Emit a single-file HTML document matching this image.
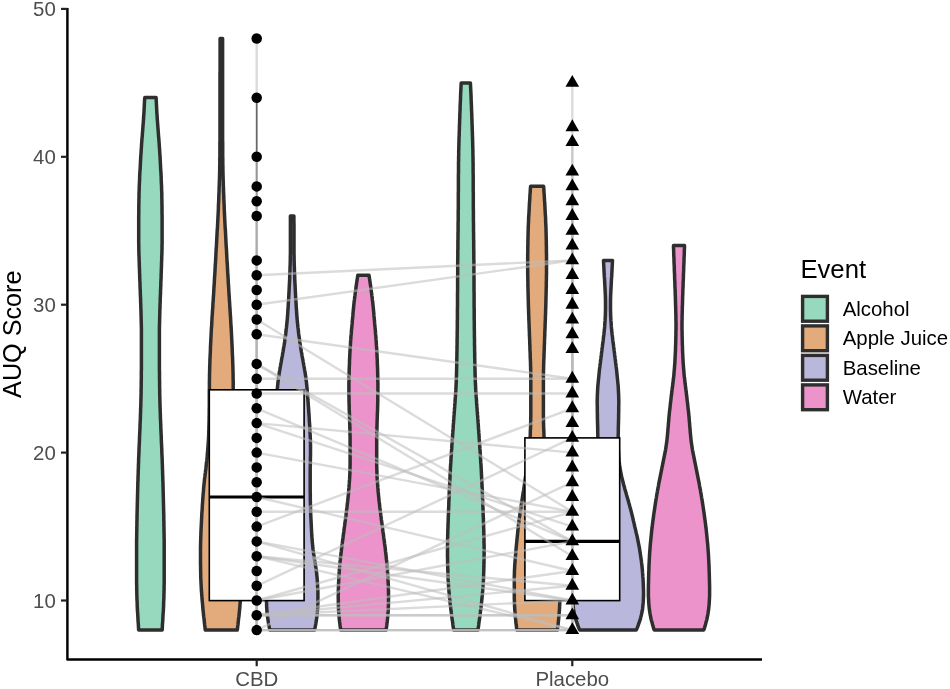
<!DOCTYPE html>
<html lang="en">
<head>
<meta charset="utf-8">
<title>AUQ Score by Event</title>
<style>
html,body{margin:0;padding:0;background:#fff;}
body{width:950px;height:689px;overflow:hidden;font-family:"Liberation Sans",Arial,Helvetica,sans-serif;}
svg{display:block;}
</style>
</head>
<body>
<svg width="950" height="689" viewBox="0 0 950 689" role="img" aria-label="AUQ Score by drug condition and event">
<rect x="0" y="0" width="950" height="689" fill="#ffffff"/>
<g stroke="#2e2e2e" stroke-width="3.5" stroke-linejoin="round">
<path fill="#97D9BE" d="M144.8 97.6 L144.6 99.6 L144.5 101.6 L144.4 103.6 L144.3 105.6 L144.2 107.6 L144.1 109.6 L144.0 111.6 L143.9 113.6 L143.7 115.6 L143.6 117.6 L143.5 119.6 L143.3 121.6 L143.2 123.6 L143.0 125.6 L142.9 127.6 L142.7 129.6 L142.6 131.6 L142.4 133.6 L142.3 135.6 L142.1 137.6 L141.9 139.6 L141.8 141.6 L141.6 143.6 L141.5 145.6 L141.4 147.6 L141.2 149.6 L141.1 151.6 L141.0 153.6 L140.8 155.6 L140.7 157.6 L140.6 159.6 L140.5 161.6 L140.4 163.6 L140.3 165.6 L140.2 167.6 L140.1 169.6 L139.9 171.6 L139.8 173.6 L139.7 175.6 L139.6 177.6 L139.6 179.6 L139.5 181.6 L139.4 183.6 L139.3 185.6 L139.2 187.6 L139.2 189.6 L139.1 191.6 L139.0 193.6 L139.0 195.6 L139.0 197.6 L138.9 199.6 L138.9 201.6 L138.9 203.6 L138.8 205.6 L138.8 207.6 L138.8 209.6 L138.8 211.6 L138.8 213.6 L138.7 215.6 L138.7 217.6 L138.7 219.6 L138.7 221.6 L138.7 223.6 L138.7 225.6 L138.7 227.6 L138.7 229.6 L138.7 231.6 L138.7 233.6 L138.7 235.6 L138.7 237.6 L138.7 239.6 L138.7 241.6 L138.7 243.6 L138.8 245.6 L138.8 247.6 L138.8 249.6 L138.9 251.6 L138.9 253.6 L139.0 255.6 L139.1 257.6 L139.1 259.6 L139.2 261.6 L139.3 263.6 L139.3 265.6 L139.4 267.6 L139.5 269.6 L139.5 271.6 L139.6 273.6 L139.7 275.6 L139.7 277.6 L139.8 279.6 L139.9 281.6 L140.0 283.6 L140.0 285.6 L140.1 287.6 L140.2 289.6 L140.3 291.6 L140.3 293.6 L140.4 295.6 L140.5 297.6 L140.6 299.6 L140.6 301.6 L140.7 303.6 L140.8 305.6 L140.8 307.6 L140.9 309.6 L141.0 311.6 L141.0 313.6 L141.1 315.6 L141.1 317.6 L141.2 319.6 L141.2 321.6 L141.3 323.6 L141.3 325.6 L141.4 327.6 L141.4 329.6 L141.4 331.6 L141.4 333.6 L141.4 335.6 L141.4 337.6 L141.4 339.6 L141.4 341.6 L141.4 343.6 L141.4 345.6 L141.4 347.6 L141.4 349.6 L141.4 351.6 L141.4 353.6 L141.4 355.6 L141.4 357.6 L141.4 359.6 L141.4 361.6 L141.4 363.6 L141.4 365.6 L141.4 367.6 L141.4 369.6 L141.3 371.6 L141.3 373.6 L141.3 375.6 L141.3 377.6 L141.3 379.6 L141.2 381.6 L141.2 383.6 L141.2 385.6 L141.2 387.6 L141.1 389.6 L141.1 391.6 L141.1 393.6 L141.0 395.6 L141.0 397.6 L140.9 399.6 L140.9 401.6 L140.8 403.6 L140.8 405.6 L140.7 407.6 L140.6 409.6 L140.6 411.6 L140.5 413.6 L140.4 415.6 L140.4 417.6 L140.3 419.6 L140.2 421.6 L140.1 423.6 L140.0 425.6 L140.0 427.6 L139.9 429.6 L139.8 431.6 L139.7 433.6 L139.6 435.6 L139.5 437.6 L139.5 439.6 L139.4 441.6 L139.3 443.6 L139.2 445.6 L139.1 447.6 L139.0 449.6 L139.0 451.6 L138.9 453.6 L138.8 455.6 L138.7 457.6 L138.6 459.6 L138.6 461.6 L138.5 463.6 L138.4 465.6 L138.4 467.6 L138.3 469.6 L138.2 471.6 L138.2 473.6 L138.1 475.6 L138.0 477.6 L138.0 479.6 L137.9 481.6 L137.8 483.6 L137.8 485.6 L137.7 487.6 L137.7 489.6 L137.6 491.6 L137.6 493.6 L137.5 495.6 L137.5 497.6 L137.4 499.6 L137.4 501.6 L137.3 503.6 L137.3 505.6 L137.2 507.6 L137.2 509.6 L137.1 511.6 L137.1 513.6 L137.0 515.6 L137.0 517.6 L137.0 519.6 L136.9 521.6 L136.9 523.6 L136.9 525.6 L136.8 527.6 L136.8 529.6 L136.8 531.6 L136.7 533.6 L136.7 535.6 L136.7 537.6 L136.6 539.6 L136.6 541.6 L136.6 543.6 L136.6 545.6 L136.6 547.6 L136.6 549.6 L136.6 551.6 L136.6 553.6 L136.6 555.6 L136.6 557.6 L136.6 559.6 L136.6 561.6 L136.6 563.6 L136.6 565.6 L136.6 567.6 L136.6 569.6 L136.6 571.6 L136.6 573.6 L136.6 575.6 L136.6 577.6 L136.6 579.6 L136.6 581.6 L136.6 583.6 L136.7 585.6 L136.7 587.6 L136.7 589.6 L136.8 591.6 L136.8 593.6 L136.9 595.6 L136.9 597.6 L137.0 599.6 L137.1 601.6 L137.2 603.6 L137.2 605.6 L137.3 607.6 L137.4 609.6 L137.5 611.6 L137.7 613.6 L137.8 615.6 L137.9 617.6 L138.0 619.6 L138.1 621.6 L138.3 623.6 L138.4 625.6 L138.5 627.6 L138.6 629.6 L138.8 630.1 L162.1 630.1 L162.2 629.6 L162.3 627.6 L162.4 625.6 L162.5 623.6 L162.7 621.6 L162.8 619.6 L162.9 617.6 L163.0 615.6 L163.1 613.6 L163.3 611.6 L163.4 609.6 L163.5 607.6 L163.6 605.6 L163.6 603.6 L163.7 601.6 L163.8 599.6 L163.9 597.6 L163.9 595.6 L164.0 593.6 L164.0 591.6 L164.1 589.6 L164.1 587.6 L164.1 585.6 L164.2 583.6 L164.2 581.6 L164.2 579.6 L164.2 577.6 L164.2 575.6 L164.2 573.6 L164.2 571.6 L164.2 569.6 L164.2 567.6 L164.2 565.6 L164.2 563.6 L164.2 561.6 L164.2 559.6 L164.2 557.6 L164.2 555.6 L164.2 553.6 L164.2 551.6 L164.2 549.6 L164.2 547.6 L164.2 545.6 L164.2 543.6 L164.2 541.6 L164.2 539.6 L164.1 537.6 L164.1 535.6 L164.1 533.6 L164.0 531.6 L164.0 529.6 L164.0 527.6 L163.9 525.6 L163.9 523.6 L163.9 521.6 L163.8 519.6 L163.8 517.6 L163.8 515.6 L163.7 513.6 L163.7 511.6 L163.6 509.6 L163.6 507.6 L163.5 505.6 L163.5 503.6 L163.4 501.6 L163.4 499.6 L163.3 497.6 L163.3 495.6 L163.2 493.6 L163.2 491.6 L163.1 489.6 L163.1 487.6 L163.0 485.6 L163.0 483.6 L162.9 481.6 L162.8 479.6 L162.8 477.6 L162.7 475.6 L162.6 473.6 L162.6 471.6 L162.5 469.6 L162.4 467.6 L162.4 465.6 L162.3 463.6 L162.2 461.6 L162.2 459.6 L162.1 457.6 L162.0 455.6 L161.9 453.6 L161.8 451.6 L161.8 449.6 L161.7 447.6 L161.6 445.6 L161.5 443.6 L161.4 441.6 L161.3 439.6 L161.3 437.6 L161.2 435.6 L161.1 433.6 L161.0 431.6 L160.9 429.6 L160.8 427.6 L160.8 425.6 L160.7 423.6 L160.6 421.6 L160.5 419.6 L160.4 417.6 L160.4 415.6 L160.3 413.6 L160.2 411.6 L160.2 409.6 L160.1 407.6 L160.0 405.6 L160.0 403.6 L159.9 401.6 L159.9 399.6 L159.8 397.6 L159.8 395.6 L159.7 393.6 L159.7 391.6 L159.7 389.6 L159.6 387.6 L159.6 385.6 L159.6 383.6 L159.6 381.6 L159.5 379.6 L159.5 377.6 L159.5 375.6 L159.5 373.6 L159.5 371.6 L159.4 369.6 L159.4 367.6 L159.4 365.6 L159.4 363.6 L159.4 361.6 L159.4 359.6 L159.4 357.6 L159.4 355.6 L159.4 353.6 L159.4 351.6 L159.4 349.6 L159.4 347.6 L159.4 345.6 L159.4 343.6 L159.4 341.6 L159.4 339.6 L159.4 337.6 L159.4 335.6 L159.4 333.6 L159.4 331.6 L159.4 329.6 L159.4 327.6 L159.5 325.6 L159.5 323.6 L159.6 321.6 L159.6 319.6 L159.7 317.6 L159.7 315.6 L159.8 313.6 L159.8 311.6 L159.9 309.6 L160.0 307.6 L160.0 305.6 L160.1 303.6 L160.2 301.6 L160.2 299.6 L160.3 297.6 L160.4 295.6 L160.5 293.6 L160.5 291.6 L160.6 289.6 L160.7 287.6 L160.8 285.6 L160.8 283.6 L160.9 281.6 L161.0 279.6 L161.1 277.6 L161.1 275.6 L161.2 273.6 L161.3 271.6 L161.3 269.6 L161.4 267.6 L161.5 265.6 L161.5 263.6 L161.6 261.6 L161.7 259.6 L161.7 257.6 L161.8 255.6 L161.9 253.6 L161.9 251.6 L162.0 249.6 L162.0 247.6 L162.0 245.6 L162.1 243.6 L162.1 241.6 L162.1 239.6 L162.1 237.6 L162.1 235.6 L162.1 233.6 L162.1 231.6 L162.1 229.6 L162.1 227.6 L162.1 225.6 L162.1 223.6 L162.1 221.6 L162.1 219.6 L162.1 217.6 L162.1 215.6 L162.0 213.6 L162.0 211.6 L162.0 209.6 L162.0 207.6 L162.0 205.6 L161.9 203.6 L161.9 201.6 L161.9 199.6 L161.8 197.6 L161.8 195.6 L161.8 193.6 L161.7 191.6 L161.6 189.6 L161.6 187.6 L161.5 185.6 L161.4 183.6 L161.3 181.6 L161.2 179.6 L161.2 177.6 L161.1 175.6 L161.0 173.6 L160.9 171.6 L160.7 169.6 L160.6 167.6 L160.5 165.6 L160.4 163.6 L160.3 161.6 L160.2 159.6 L160.1 157.6 L160.0 155.6 L159.8 153.6 L159.7 151.6 L159.6 149.6 L159.4 147.6 L159.3 145.6 L159.2 143.6 L159.0 141.6 L158.9 139.6 L158.7 137.6 L158.5 135.6 L158.4 133.6 L158.2 131.6 L158.1 129.6 L157.9 127.6 L157.8 125.6 L157.6 123.6 L157.5 121.6 L157.3 119.6 L157.2 117.6 L157.1 115.6 L156.9 113.6 L156.8 111.6 L156.7 109.6 L156.6 107.6 L156.5 105.6 L156.4 103.6 L156.3 101.6 L156.2 99.6 L156.1 97.6 Z"/>
<path fill="#E3AB7C" d="M220.1 38.5 L220.1 40.5 L220.1 42.5 L220.1 44.5 L220.1 46.5 L220.1 48.5 L220.1 50.5 L220.1 52.5 L220.1 54.5 L220.1 56.5 L220.1 58.5 L220.1 60.5 L220.1 62.5 L220.1 64.5 L220.1 66.5 L220.1 68.5 L220.1 70.5 L220.0 72.5 L220.0 74.5 L220.0 76.5 L220.0 78.5 L220.0 80.5 L220.0 82.5 L220.0 84.5 L220.0 86.5 L220.0 88.5 L220.0 90.5 L220.0 92.5 L220.0 94.5 L220.0 96.5 L220.0 98.5 L220.0 100.5 L220.0 102.5 L220.0 104.5 L220.0 106.5 L220.0 108.5 L220.0 110.5 L220.0 112.5 L220.0 114.5 L220.0 116.5 L220.0 118.5 L220.0 120.5 L220.0 122.5 L220.0 124.5 L220.0 126.5 L220.0 128.5 L220.0 130.5 L220.0 132.5 L220.0 134.5 L220.0 136.5 L220.0 138.5 L220.0 140.5 L219.9 142.5 L219.9 144.5 L219.9 146.5 L219.9 148.5 L219.9 150.5 L219.9 152.5 L219.9 154.5 L219.9 156.5 L219.8 158.5 L219.8 160.5 L219.8 162.5 L219.8 164.5 L219.7 166.5 L219.7 168.5 L219.7 170.5 L219.6 172.5 L219.6 174.5 L219.5 176.5 L219.5 178.5 L219.4 180.5 L219.3 182.5 L219.3 184.5 L219.2 186.5 L219.1 188.5 L219.1 190.5 L219.0 192.5 L218.9 194.5 L218.8 196.5 L218.8 198.5 L218.7 200.5 L218.6 202.5 L218.5 204.5 L218.4 206.5 L218.4 208.5 L218.3 210.5 L218.2 212.5 L218.1 214.5 L218.0 216.5 L217.9 218.5 L217.8 220.5 L217.7 222.5 L217.6 224.5 L217.5 226.5 L217.4 228.5 L217.2 230.5 L217.1 232.5 L217.0 234.5 L216.9 236.5 L216.8 238.5 L216.7 240.5 L216.6 242.5 L216.5 244.5 L216.4 246.5 L216.2 248.5 L216.1 250.5 L216.0 252.5 L215.9 254.5 L215.8 256.5 L215.7 258.5 L215.6 260.5 L215.5 262.5 L215.3 264.5 L215.2 266.5 L215.1 268.5 L215.0 270.5 L214.9 272.5 L214.8 274.5 L214.6 276.5 L214.5 278.5 L214.4 280.5 L214.3 282.5 L214.2 284.5 L214.0 286.5 L213.9 288.5 L213.8 290.5 L213.7 292.5 L213.6 294.5 L213.4 296.5 L213.3 298.5 L213.2 300.5 L213.0 302.5 L212.9 304.5 L212.8 306.5 L212.7 308.5 L212.5 310.5 L212.4 312.5 L212.3 314.5 L212.1 316.5 L212.0 318.5 L211.9 320.5 L211.8 322.5 L211.7 324.5 L211.6 326.5 L211.4 328.5 L211.3 330.5 L211.2 332.5 L211.1 334.5 L211.0 336.5 L210.9 338.5 L210.8 340.5 L210.7 342.5 L210.6 344.5 L210.5 346.5 L210.4 348.5 L210.4 350.5 L210.3 352.5 L210.2 354.5 L210.1 356.5 L210.0 358.5 L209.9 360.5 L209.9 362.5 L209.8 364.5 L209.7 366.5 L209.7 368.5 L209.6 370.5 L209.6 372.5 L209.5 374.5 L209.5 376.5 L209.5 378.5 L209.4 380.5 L209.4 382.5 L209.4 384.5 L209.4 386.5 L209.4 388.5 L209.3 390.5 L209.3 392.5 L209.3 394.5 L209.3 396.5 L209.3 398.5 L209.3 400.5 L209.3 402.5 L209.3 404.5 L209.3 406.5 L209.2 408.5 L209.2 410.5 L209.2 412.5 L209.2 414.5 L209.1 416.5 L209.1 418.5 L209.1 420.5 L209.0 422.5 L209.0 424.5 L208.9 426.5 L208.9 428.5 L208.8 430.5 L208.7 432.5 L208.7 434.5 L208.6 436.5 L208.5 438.5 L208.4 440.5 L208.3 442.5 L208.1 444.5 L208.0 446.5 L207.8 448.5 L207.7 450.5 L207.5 452.5 L207.3 454.5 L207.2 456.5 L207.0 458.5 L206.8 460.5 L206.5 462.5 L206.3 464.5 L206.1 466.5 L205.9 468.5 L205.6 470.5 L205.4 472.5 L205.1 474.5 L204.9 476.5 L204.6 478.5 L204.4 480.5 L204.2 482.5 L204.0 484.5 L203.8 486.5 L203.6 488.5 L203.5 490.5 L203.3 492.5 L203.1 494.5 L203.0 496.5 L202.8 498.5 L202.7 500.5 L202.6 502.5 L202.4 504.5 L202.3 506.5 L202.2 508.5 L202.1 510.5 L201.9 512.5 L201.8 514.5 L201.7 516.5 L201.6 518.5 L201.5 520.5 L201.4 522.5 L201.3 524.5 L201.2 526.5 L201.1 528.5 L201.0 530.5 L200.9 532.5 L200.9 534.5 L200.8 536.5 L200.7 538.5 L200.7 540.5 L200.6 542.5 L200.6 544.5 L200.5 546.5 L200.5 548.5 L200.5 550.5 L200.5 552.5 L200.5 554.5 L200.5 556.5 L200.5 558.5 L200.5 560.5 L200.5 562.5 L200.5 564.5 L200.6 566.5 L200.6 568.5 L200.6 570.5 L200.7 572.5 L200.7 574.5 L200.7 576.5 L200.8 578.5 L200.9 580.5 L201.0 582.5 L201.1 584.5 L201.2 586.5 L201.3 588.5 L201.4 590.5 L201.6 592.5 L201.7 594.5 L201.9 596.5 L202.0 598.5 L202.2 600.5 L202.4 602.5 L202.6 604.5 L202.7 606.5 L202.9 608.5 L203.1 610.5 L203.3 612.5 L203.5 614.5 L203.7 616.5 L204.0 618.5 L204.2 620.5 L204.4 622.5 L204.6 624.5 L204.9 626.5 L205.1 628.5 L205.3 630.1 L237.3 630.1 L237.5 628.5 L237.7 626.5 L238.0 624.5 L238.2 622.5 L238.4 620.5 L238.6 618.5 L238.9 616.5 L239.1 614.5 L239.3 612.5 L239.5 610.5 L239.7 608.5 L239.9 606.5 L240.0 604.5 L240.2 602.5 L240.4 600.5 L240.6 598.5 L240.7 596.5 L240.9 594.5 L241.0 592.5 L241.2 590.5 L241.3 588.5 L241.4 586.5 L241.5 584.5 L241.6 582.5 L241.7 580.5 L241.8 578.5 L241.9 576.5 L241.9 574.5 L241.9 572.5 L242.0 570.5 L242.0 568.5 L242.0 566.5 L242.1 564.5 L242.1 562.5 L242.1 560.5 L242.1 558.5 L242.1 556.5 L242.1 554.5 L242.1 552.5 L242.1 550.5 L242.1 548.5 L242.1 546.5 L242.0 544.5 L242.0 542.5 L241.9 540.5 L241.9 538.5 L241.8 536.5 L241.7 534.5 L241.7 532.5 L241.6 530.5 L241.5 528.5 L241.4 526.5 L241.3 524.5 L241.2 522.5 L241.1 520.5 L241.0 518.5 L240.9 516.5 L240.8 514.5 L240.7 512.5 L240.5 510.5 L240.4 508.5 L240.3 506.5 L240.2 504.5 L240.0 502.5 L239.9 500.5 L239.8 498.5 L239.6 496.5 L239.5 494.5 L239.3 492.5 L239.1 490.5 L239.0 488.5 L238.8 486.5 L238.6 484.5 L238.4 482.5 L238.2 480.5 L238.0 478.5 L237.7 476.5 L237.5 474.5 L237.2 472.5 L237.0 470.5 L236.7 468.5 L236.5 466.5 L236.3 464.5 L236.1 462.5 L235.8 460.5 L235.6 458.5 L235.4 456.5 L235.3 454.5 L235.1 452.5 L234.9 450.5 L234.8 448.5 L234.6 446.5 L234.5 444.5 L234.3 442.5 L234.2 440.5 L234.1 438.5 L234.0 436.5 L233.9 434.5 L233.9 432.5 L233.8 430.5 L233.7 428.5 L233.7 426.5 L233.6 424.5 L233.6 422.5 L233.5 420.5 L233.5 418.5 L233.5 416.5 L233.4 414.5 L233.4 412.5 L233.4 410.5 L233.4 408.5 L233.3 406.5 L233.3 404.5 L233.3 402.5 L233.3 400.5 L233.3 398.5 L233.3 396.5 L233.3 394.5 L233.3 392.5 L233.3 390.5 L233.2 388.5 L233.2 386.5 L233.2 384.5 L233.2 382.5 L233.2 380.5 L233.1 378.5 L233.1 376.5 L233.1 374.5 L233.0 372.5 L233.0 370.5 L232.9 368.5 L232.9 366.5 L232.8 364.5 L232.7 362.5 L232.7 360.5 L232.6 358.5 L232.5 356.5 L232.4 354.5 L232.3 352.5 L232.2 350.5 L232.2 348.5 L232.1 346.5 L232.0 344.5 L231.9 342.5 L231.8 340.5 L231.7 338.5 L231.6 336.5 L231.5 334.5 L231.4 332.5 L231.3 330.5 L231.2 328.5 L231.0 326.5 L230.9 324.5 L230.8 322.5 L230.7 320.5 L230.6 318.5 L230.5 316.5 L230.3 314.5 L230.2 312.5 L230.1 310.5 L229.9 308.5 L229.8 306.5 L229.7 304.5 L229.6 302.5 L229.4 300.5 L229.3 298.5 L229.2 296.5 L229.0 294.5 L228.9 292.5 L228.8 290.5 L228.7 288.5 L228.6 286.5 L228.4 284.5 L228.3 282.5 L228.2 280.5 L228.1 278.5 L228.0 276.5 L227.8 274.5 L227.7 272.5 L227.6 270.5 L227.5 268.5 L227.4 266.5 L227.3 264.5 L227.1 262.5 L227.0 260.5 L226.9 258.5 L226.8 256.5 L226.7 254.5 L226.6 252.5 L226.5 250.5 L226.4 248.5 L226.2 246.5 L226.1 244.5 L226.0 242.5 L225.9 240.5 L225.8 238.5 L225.7 236.5 L225.6 234.5 L225.5 232.5 L225.4 230.5 L225.2 228.5 L225.1 226.5 L225.0 224.5 L224.9 222.5 L224.8 220.5 L224.7 218.5 L224.6 216.5 L224.5 214.5 L224.4 212.5 L224.3 210.5 L224.2 208.5 L224.2 206.5 L224.1 204.5 L224.0 202.5 L223.9 200.5 L223.8 198.5 L223.8 196.5 L223.7 194.5 L223.6 192.5 L223.5 190.5 L223.5 188.5 L223.4 186.5 L223.3 184.5 L223.3 182.5 L223.2 180.5 L223.1 178.5 L223.1 176.5 L223.0 174.5 L223.0 172.5 L222.9 170.5 L222.9 168.5 L222.9 166.5 L222.8 164.5 L222.8 162.5 L222.8 160.5 L222.8 158.5 L222.7 156.5 L222.7 154.5 L222.7 152.5 L222.7 150.5 L222.7 148.5 L222.7 146.5 L222.7 144.5 L222.7 142.5 L222.6 140.5 L222.6 138.5 L222.6 136.5 L222.6 134.5 L222.6 132.5 L222.6 130.5 L222.6 128.5 L222.6 126.5 L222.6 124.5 L222.6 122.5 L222.6 120.5 L222.6 118.5 L222.6 116.5 L222.6 114.5 L222.6 112.5 L222.6 110.5 L222.6 108.5 L222.6 106.5 L222.6 104.5 L222.6 102.5 L222.6 100.5 L222.6 98.5 L222.6 96.5 L222.6 94.5 L222.6 92.5 L222.6 90.5 L222.6 88.5 L222.6 86.5 L222.6 84.5 L222.6 82.5 L222.6 80.5 L222.6 78.5 L222.6 76.5 L222.6 74.5 L222.6 72.5 L222.6 70.5 L222.6 68.5 L222.6 66.5 L222.6 64.5 L222.6 62.5 L222.6 60.5 L222.6 58.5 L222.6 56.5 L222.6 54.5 L222.6 52.5 L222.6 50.5 L222.6 48.5 L222.6 46.5 L222.6 44.5 L222.6 42.5 L222.6 40.5 L222.6 38.5 Z"/>
<path fill="#BAB7DC" d="M290.4 216.0 L290.4 218.0 L290.4 220.0 L290.4 222.0 L290.4 224.0 L290.4 226.0 L290.4 228.0 L290.4 230.0 L290.4 232.0 L290.4 234.0 L290.4 236.0 L290.4 238.0 L290.4 240.0 L290.4 242.0 L290.4 244.0 L290.4 246.0 L290.4 248.0 L290.4 250.0 L290.4 252.0 L290.4 254.0 L290.3 256.0 L290.3 258.0 L290.3 260.0 L290.2 262.0 L290.2 264.0 L290.1 266.0 L290.0 268.0 L290.0 270.0 L289.9 272.0 L289.8 274.0 L289.7 276.0 L289.7 278.0 L289.6 280.0 L289.5 282.0 L289.4 284.0 L289.3 286.0 L289.2 288.0 L289.1 290.0 L289.0 292.0 L288.9 294.0 L288.8 296.0 L288.7 298.0 L288.6 300.0 L288.4 302.0 L288.3 304.0 L288.2 306.0 L288.1 308.0 L287.9 310.0 L287.8 312.0 L287.7 314.0 L287.5 316.0 L287.4 318.0 L287.2 320.0 L287.0 322.0 L286.8 324.0 L286.6 326.0 L286.4 328.0 L286.1 330.0 L285.9 332.0 L285.7 334.0 L285.4 336.0 L285.1 338.0 L284.8 340.0 L284.6 342.0 L284.3 344.0 L284.0 346.0 L283.6 348.0 L283.3 350.0 L283.0 352.0 L282.6 354.0 L282.3 356.0 L281.9 358.0 L281.5 360.0 L281.2 362.0 L280.8 364.0 L280.5 366.0 L280.1 368.0 L279.8 370.0 L279.4 372.0 L279.1 374.0 L278.8 376.0 L278.5 378.0 L278.3 380.0 L278.0 382.0 L277.8 384.0 L277.6 386.0 L277.4 388.0 L277.2 390.0 L277.1 392.0 L276.9 394.0 L276.8 396.0 L276.6 398.0 L276.5 400.0 L276.3 402.0 L276.2 404.0 L276.0 406.0 L275.9 408.0 L275.7 410.0 L275.6 412.0 L275.5 414.0 L275.3 416.0 L275.2 418.0 L275.1 420.0 L275.0 422.0 L274.8 424.0 L274.7 426.0 L274.6 428.0 L274.5 430.0 L274.4 432.0 L274.3 434.0 L274.2 436.0 L274.1 438.0 L274.0 440.0 L274.0 442.0 L273.9 444.0 L273.9 446.0 L273.9 448.0 L273.9 450.0 L273.9 452.0 L273.9 454.0 L273.9 456.0 L274.0 458.0 L274.0 460.0 L274.1 462.0 L274.1 464.0 L274.1 466.0 L274.2 468.0 L274.2 470.0 L274.2 472.0 L274.2 474.0 L274.2 476.0 L274.2 478.0 L274.2 480.0 L274.2 482.0 L274.2 484.0 L274.2 486.0 L274.2 488.0 L274.2 490.0 L274.2 492.0 L274.1 494.0 L274.1 496.0 L274.1 498.0 L274.1 500.0 L274.0 502.0 L274.0 504.0 L273.9 506.0 L273.9 508.0 L273.8 510.0 L273.7 512.0 L273.7 514.0 L273.6 516.0 L273.5 518.0 L273.4 520.0 L273.3 522.0 L273.2 524.0 L273.1 526.0 L273.0 528.0 L272.9 530.0 L272.8 532.0 L272.7 534.0 L272.6 536.0 L272.4 538.0 L272.3 540.0 L272.1 542.0 L271.9 544.0 L271.7 546.0 L271.5 548.0 L271.3 550.0 L271.0 552.0 L270.7 554.0 L270.4 556.0 L270.1 558.0 L269.8 560.0 L269.4 562.0 L269.1 564.0 L268.8 566.0 L268.5 568.0 L268.2 570.0 L267.9 572.0 L267.7 574.0 L267.5 576.0 L267.3 578.0 L267.1 580.0 L267.0 582.0 L266.9 584.0 L266.8 586.0 L266.7 588.0 L266.6 590.0 L266.5 592.0 L266.5 594.0 L266.5 596.0 L266.5 598.0 L266.5 600.0 L266.5 602.0 L266.6 604.0 L266.6 606.0 L266.7 608.0 L266.9 610.0 L267.0 612.0 L267.2 614.0 L267.4 616.0 L267.7 618.0 L268.0 620.0 L268.3 622.0 L268.6 624.0 L269.0 626.0 L269.4 628.0 L269.8 630.0 L270.1 630.1 L314.2 630.1 L314.6 630.0 L315.0 628.0 L315.4 626.0 L315.8 624.0 L316.1 622.0 L316.4 620.0 L316.7 618.0 L317.0 616.0 L317.2 614.0 L317.4 612.0 L317.5 610.0 L317.7 608.0 L317.8 606.0 L317.8 604.0 L317.9 602.0 L317.9 600.0 L317.9 598.0 L317.9 596.0 L317.9 594.0 L317.9 592.0 L317.8 590.0 L317.7 588.0 L317.6 586.0 L317.5 584.0 L317.4 582.0 L317.3 580.0 L317.1 578.0 L316.9 576.0 L316.7 574.0 L316.5 572.0 L316.2 570.0 L315.9 568.0 L315.6 566.0 L315.3 564.0 L315.0 562.0 L314.6 560.0 L314.3 558.0 L314.0 556.0 L313.7 554.0 L313.4 552.0 L313.1 550.0 L312.9 548.0 L312.7 546.0 L312.5 544.0 L312.3 542.0 L312.1 540.0 L312.0 538.0 L311.8 536.0 L311.7 534.0 L311.6 532.0 L311.5 530.0 L311.4 528.0 L311.3 526.0 L311.2 524.0 L311.1 522.0 L311.0 520.0 L310.9 518.0 L310.8 516.0 L310.7 514.0 L310.7 512.0 L310.6 510.0 L310.5 508.0 L310.5 506.0 L310.4 504.0 L310.4 502.0 L310.3 500.0 L310.3 498.0 L310.3 496.0 L310.3 494.0 L310.2 492.0 L310.2 490.0 L310.2 488.0 L310.2 486.0 L310.2 484.0 L310.2 482.0 L310.2 480.0 L310.2 478.0 L310.2 476.0 L310.2 474.0 L310.2 472.0 L310.2 470.0 L310.2 468.0 L310.3 466.0 L310.3 464.0 L310.3 462.0 L310.4 460.0 L310.4 458.0 L310.5 456.0 L310.5 454.0 L310.5 452.0 L310.5 450.0 L310.5 448.0 L310.5 446.0 L310.5 444.0 L310.4 442.0 L310.4 440.0 L310.3 438.0 L310.2 436.0 L310.1 434.0 L310.0 432.0 L309.9 430.0 L309.8 428.0 L309.7 426.0 L309.6 424.0 L309.4 422.0 L309.3 420.0 L309.2 418.0 L309.1 416.0 L308.9 414.0 L308.8 412.0 L308.7 410.0 L308.5 408.0 L308.4 406.0 L308.2 404.0 L308.1 402.0 L307.9 400.0 L307.8 398.0 L307.6 396.0 L307.5 394.0 L307.3 392.0 L307.2 390.0 L307.0 388.0 L306.8 386.0 L306.6 384.0 L306.4 382.0 L306.1 380.0 L305.9 378.0 L305.6 376.0 L305.3 374.0 L305.0 372.0 L304.6 370.0 L304.3 368.0 L303.9 366.0 L303.6 364.0 L303.2 362.0 L302.9 360.0 L302.5 358.0 L302.1 356.0 L301.8 354.0 L301.4 352.0 L301.1 350.0 L300.8 348.0 L300.4 346.0 L300.1 344.0 L299.8 342.0 L299.6 340.0 L299.3 338.0 L299.0 336.0 L298.7 334.0 L298.5 332.0 L298.3 330.0 L298.0 328.0 L297.8 326.0 L297.6 324.0 L297.4 322.0 L297.2 320.0 L297.0 318.0 L296.9 316.0 L296.7 314.0 L296.6 312.0 L296.5 310.0 L296.3 308.0 L296.2 306.0 L296.1 304.0 L296.0 302.0 L295.8 300.0 L295.7 298.0 L295.6 296.0 L295.5 294.0 L295.4 292.0 L295.3 290.0 L295.2 288.0 L295.1 286.0 L295.0 284.0 L294.9 282.0 L294.8 280.0 L294.7 278.0 L294.7 276.0 L294.6 274.0 L294.5 272.0 L294.4 270.0 L294.4 268.0 L294.3 266.0 L294.2 264.0 L294.2 262.0 L294.1 260.0 L294.1 258.0 L294.1 256.0 L294.0 254.0 L294.0 252.0 L294.0 250.0 L294.0 248.0 L294.0 246.0 L294.0 244.0 L294.0 242.0 L294.0 240.0 L294.0 238.0 L294.0 236.0 L294.0 234.0 L294.0 232.0 L294.0 230.0 L294.0 228.0 L294.0 226.0 L294.0 224.0 L293.9 222.0 L293.9 220.0 L293.9 218.0 L293.9 216.0 Z"/>
<path fill="#EC93CB" d="M357.8 275.2 L357.5 277.2 L357.2 279.2 L356.9 281.2 L356.6 283.2 L356.3 285.2 L356.0 287.2 L355.8 289.2 L355.5 291.2 L355.2 293.2 L355.0 295.2 L354.7 297.2 L354.5 299.2 L354.2 301.2 L354.0 303.2 L353.8 305.2 L353.6 307.2 L353.4 309.2 L353.2 311.2 L353.0 313.2 L352.9 315.2 L352.7 317.2 L352.5 319.2 L352.3 321.2 L352.2 323.2 L352.0 325.2 L351.8 327.2 L351.6 329.2 L351.4 331.2 L351.3 333.2 L351.1 335.2 L350.9 337.2 L350.8 339.2 L350.6 341.2 L350.5 343.2 L350.4 345.2 L350.2 347.2 L350.1 349.2 L350.0 351.2 L349.9 353.2 L349.8 355.2 L349.7 357.2 L349.6 359.2 L349.5 361.2 L349.5 363.2 L349.4 365.2 L349.3 367.2 L349.2 369.2 L349.2 371.2 L349.1 373.2 L349.1 375.2 L349.0 377.2 L349.0 379.2 L349.0 381.2 L348.9 383.2 L348.9 385.2 L348.9 387.2 L348.9 389.2 L348.9 391.2 L348.9 393.2 L348.9 395.2 L349.0 397.2 L349.0 399.2 L349.0 401.2 L349.1 403.2 L349.1 405.2 L349.2 407.2 L349.2 409.2 L349.3 411.2 L349.4 413.2 L349.5 415.2 L349.5 417.2 L349.6 419.2 L349.7 421.2 L349.7 423.2 L349.8 425.2 L349.8 427.2 L349.9 429.2 L349.9 431.2 L350.0 433.2 L350.0 435.2 L350.1 437.2 L350.1 439.2 L350.1 441.2 L350.1 443.2 L350.1 445.2 L350.1 447.2 L350.1 449.2 L350.1 451.2 L350.1 453.2 L350.1 455.2 L350.1 457.2 L350.1 459.2 L350.1 461.2 L350.1 463.2 L350.1 465.2 L350.0 467.2 L350.0 469.2 L349.9 471.2 L349.9 473.2 L349.8 475.2 L349.7 477.2 L349.6 479.2 L349.4 481.2 L349.3 483.2 L349.1 485.2 L349.0 487.2 L348.8 489.2 L348.7 491.2 L348.5 493.2 L348.3 495.2 L348.1 497.2 L347.9 499.2 L347.7 501.2 L347.4 503.2 L347.2 505.2 L347.0 507.2 L346.7 509.2 L346.5 511.2 L346.2 513.2 L346.0 515.2 L345.7 517.2 L345.5 519.2 L345.2 521.2 L344.9 523.2 L344.7 525.2 L344.4 527.2 L344.1 529.2 L343.9 531.2 L343.6 533.2 L343.3 535.2 L343.1 537.2 L342.8 539.2 L342.5 541.2 L342.3 543.2 L342.0 545.2 L341.7 547.2 L341.5 549.2 L341.3 551.2 L341.0 553.2 L340.8 555.2 L340.6 557.2 L340.4 559.2 L340.1 561.2 L339.9 563.2 L339.8 565.2 L339.6 567.2 L339.4 569.2 L339.3 571.2 L339.1 573.2 L339.0 575.2 L338.9 577.2 L338.8 579.2 L338.7 581.2 L338.6 583.2 L338.5 585.2 L338.4 587.2 L338.4 589.2 L338.3 591.2 L338.3 593.2 L338.3 595.2 L338.2 597.2 L338.3 599.2 L338.3 601.2 L338.3 603.2 L338.4 605.2 L338.4 607.2 L338.5 609.2 L338.6 611.2 L338.8 613.2 L338.9 615.2 L339.1 617.2 L339.3 619.2 L339.5 621.2 L339.8 623.2 L340.0 625.2 L340.3 627.2 L340.6 629.2 L340.8 630.1 L385.9 630.1 L386.2 629.2 L386.5 627.2 L386.8 625.2 L387.0 623.2 L387.3 621.2 L387.5 619.2 L387.7 617.2 L387.9 615.2 L388.0 613.2 L388.2 611.2 L388.3 609.2 L388.4 607.2 L388.4 605.2 L388.5 603.2 L388.5 601.2 L388.5 599.2 L388.6 597.2 L388.5 595.2 L388.5 593.2 L388.5 591.2 L388.4 589.2 L388.4 587.2 L388.3 585.2 L388.2 583.2 L388.1 581.2 L388.0 579.2 L387.9 577.2 L387.8 575.2 L387.7 573.2 L387.5 571.2 L387.4 569.2 L387.2 567.2 L387.0 565.2 L386.9 563.2 L386.7 561.2 L386.4 559.2 L386.2 557.2 L386.0 555.2 L385.8 553.2 L385.5 551.2 L385.3 549.2 L385.1 547.2 L384.8 545.2 L384.5 543.2 L384.3 541.2 L384.0 539.2 L383.7 537.2 L383.5 535.2 L383.2 533.2 L382.9 531.2 L382.7 529.2 L382.4 527.2 L382.1 525.2 L381.9 523.2 L381.6 521.2 L381.3 519.2 L381.1 517.2 L380.8 515.2 L380.6 513.2 L380.3 511.2 L380.1 509.2 L379.8 507.2 L379.6 505.2 L379.4 503.2 L379.1 501.2 L378.9 499.2 L378.7 497.2 L378.5 495.2 L378.3 493.2 L378.1 491.2 L378.0 489.2 L377.8 487.2 L377.7 485.2 L377.5 483.2 L377.4 481.2 L377.2 479.2 L377.1 477.2 L377.0 475.2 L376.9 473.2 L376.9 471.2 L376.8 469.2 L376.8 467.2 L376.7 465.2 L376.7 463.2 L376.7 461.2 L376.7 459.2 L376.7 457.2 L376.7 455.2 L376.7 453.2 L376.7 451.2 L376.7 449.2 L376.7 447.2 L376.7 445.2 L376.7 443.2 L376.7 441.2 L376.7 439.2 L376.7 437.2 L376.8 435.2 L376.8 433.2 L376.9 431.2 L376.9 429.2 L377.0 427.2 L377.0 425.2 L377.1 423.2 L377.1 421.2 L377.2 419.2 L377.3 417.2 L377.3 415.2 L377.4 413.2 L377.5 411.2 L377.6 409.2 L377.6 407.2 L377.7 405.2 L377.7 403.2 L377.8 401.2 L377.8 399.2 L377.8 397.2 L377.9 395.2 L377.9 393.2 L377.9 391.2 L377.9 389.2 L377.9 387.2 L377.9 385.2 L377.9 383.2 L377.8 381.2 L377.8 379.2 L377.8 377.2 L377.7 375.2 L377.7 373.2 L377.6 371.2 L377.6 369.2 L377.5 367.2 L377.4 365.2 L377.3 363.2 L377.3 361.2 L377.2 359.2 L377.1 357.2 L377.0 355.2 L376.9 353.2 L376.8 351.2 L376.7 349.2 L376.6 347.2 L376.4 345.2 L376.3 343.2 L376.2 341.2 L376.0 339.2 L375.9 337.2 L375.7 335.2 L375.5 333.2 L375.4 331.2 L375.2 329.2 L375.0 327.2 L374.8 325.2 L374.6 323.2 L374.5 321.2 L374.3 319.2 L374.1 317.2 L373.9 315.2 L373.8 313.2 L373.6 311.2 L373.4 309.2 L373.2 307.2 L373.0 305.2 L372.8 303.2 L372.6 301.2 L372.3 299.2 L372.1 297.2 L371.8 295.2 L371.6 293.2 L371.3 291.2 L371.0 289.2 L370.8 287.2 L370.5 285.2 L370.2 283.2 L369.9 281.2 L369.6 279.2 L369.3 277.2 L369.0 275.2 Z"/>
<path fill="#97D9BE" d="M461.2 82.9 L461.1 84.9 L461.0 86.9 L460.9 88.9 L460.8 90.9 L460.7 92.9 L460.6 94.9 L460.5 96.9 L460.5 98.9 L460.4 100.9 L460.3 102.9 L460.2 104.9 L460.1 106.9 L460.1 108.9 L460.0 110.9 L459.9 112.9 L459.8 114.9 L459.8 116.9 L459.7 118.9 L459.6 120.9 L459.6 122.9 L459.5 124.9 L459.4 126.9 L459.4 128.9 L459.3 130.9 L459.2 132.9 L459.2 134.9 L459.1 136.9 L459.0 138.9 L459.0 140.9 L458.9 142.9 L458.9 144.9 L458.8 146.9 L458.8 148.9 L458.7 150.9 L458.7 152.9 L458.7 154.9 L458.6 156.9 L458.6 158.9 L458.6 160.9 L458.5 162.9 L458.5 164.9 L458.5 166.9 L458.5 168.9 L458.5 170.9 L458.5 172.9 L458.4 174.9 L458.4 176.9 L458.4 178.9 L458.4 180.9 L458.4 182.9 L458.4 184.9 L458.4 186.9 L458.4 188.9 L458.4 190.9 L458.3 192.9 L458.3 194.9 L458.3 196.9 L458.3 198.9 L458.3 200.9 L458.3 202.9 L458.3 204.9 L458.3 206.9 L458.3 208.9 L458.2 210.9 L458.2 212.9 L458.2 214.9 L458.2 216.9 L458.2 218.9 L458.2 220.9 L458.1 222.9 L458.1 224.9 L458.1 226.9 L458.1 228.9 L458.1 230.9 L458.0 232.9 L458.0 234.9 L458.0 236.9 L458.0 238.9 L457.9 240.9 L457.9 242.9 L457.9 244.9 L457.9 246.9 L457.9 248.9 L457.8 250.9 L457.8 252.9 L457.8 254.9 L457.8 256.9 L457.8 258.9 L457.7 260.9 L457.7 262.9 L457.7 264.9 L457.7 266.9 L457.7 268.9 L457.7 270.9 L457.7 272.9 L457.7 274.9 L457.6 276.9 L457.6 278.9 L457.6 280.9 L457.6 282.9 L457.6 284.9 L457.6 286.9 L457.6 288.9 L457.6 290.9 L457.5 292.9 L457.5 294.9 L457.5 296.9 L457.5 298.9 L457.5 300.9 L457.5 302.9 L457.5 304.9 L457.5 306.9 L457.4 308.9 L457.4 310.9 L457.4 312.9 L457.4 314.9 L457.4 316.9 L457.4 318.9 L457.3 320.9 L457.3 322.9 L457.3 324.9 L457.3 326.9 L457.3 328.9 L457.2 330.9 L457.2 332.9 L457.2 334.9 L457.2 336.9 L457.1 338.9 L457.1 340.9 L457.1 342.9 L457.1 344.9 L457.0 346.9 L457.0 348.9 L457.0 350.9 L456.9 352.9 L456.9 354.9 L456.9 356.9 L456.8 358.9 L456.8 360.9 L456.8 362.9 L456.7 364.9 L456.7 366.9 L456.6 368.9 L456.6 370.9 L456.5 372.9 L456.5 374.9 L456.4 376.9 L456.3 378.9 L456.3 380.9 L456.2 382.9 L456.1 384.9 L456.0 386.9 L455.9 388.9 L455.8 390.9 L455.6 392.9 L455.5 394.9 L455.4 396.9 L455.2 398.9 L455.1 400.9 L455.0 402.9 L454.8 404.9 L454.7 406.9 L454.5 408.9 L454.4 410.9 L454.2 412.9 L454.1 414.9 L453.9 416.9 L453.8 418.9 L453.6 420.9 L453.5 422.9 L453.3 424.9 L453.2 426.9 L453.1 428.9 L452.9 430.9 L452.8 432.9 L452.6 434.9 L452.5 436.9 L452.4 438.9 L452.2 440.9 L452.1 442.9 L451.9 444.9 L451.8 446.9 L451.7 448.9 L451.5 450.9 L451.4 452.9 L451.3 454.9 L451.1 456.9 L451.0 458.9 L450.9 460.9 L450.8 462.9 L450.6 464.9 L450.5 466.9 L450.4 468.9 L450.3 470.9 L450.2 472.9 L450.1 474.9 L450.0 476.9 L449.9 478.9 L449.8 480.9 L449.7 482.9 L449.6 484.9 L449.5 486.9 L449.4 488.9 L449.3 490.9 L449.2 492.9 L449.2 494.9 L449.1 496.9 L449.0 498.9 L448.9 500.9 L448.8 502.9 L448.8 504.9 L448.7 506.9 L448.6 508.9 L448.5 510.9 L448.5 512.9 L448.4 514.9 L448.3 516.9 L448.2 518.9 L448.2 520.9 L448.1 522.9 L448.0 524.9 L448.0 526.9 L447.9 528.9 L447.8 530.9 L447.8 532.9 L447.7 534.9 L447.7 536.9 L447.6 538.9 L447.6 540.9 L447.6 542.9 L447.5 544.9 L447.5 546.9 L447.5 548.9 L447.5 550.9 L447.5 552.9 L447.5 554.9 L447.5 556.9 L447.6 558.9 L447.6 560.9 L447.6 562.9 L447.7 564.9 L447.7 566.9 L447.8 568.9 L447.8 570.9 L447.9 572.9 L448.0 574.9 L448.0 576.9 L448.1 578.9 L448.2 580.9 L448.4 582.9 L448.5 584.9 L448.6 586.9 L448.8 588.9 L448.9 590.9 L449.1 592.9 L449.3 594.9 L449.5 596.9 L449.7 598.9 L449.9 600.9 L450.1 602.9 L450.3 604.9 L450.6 606.9 L450.8 608.9 L451.1 610.9 L451.3 612.9 L451.6 614.9 L451.8 616.9 L452.1 618.9 L452.4 620.9 L452.7 622.9 L452.9 624.9 L453.2 626.9 L453.5 628.9 L453.8 630.1 L477.9 630.1 L478.1 628.9 L478.4 626.9 L478.7 624.9 L478.9 622.9 L479.2 620.9 L479.5 618.9 L479.8 616.9 L480.0 614.9 L480.3 612.9 L480.5 610.9 L480.8 608.9 L481.0 606.9 L481.3 604.9 L481.5 602.9 L481.7 600.9 L481.9 598.9 L482.1 596.9 L482.3 594.9 L482.5 592.9 L482.7 590.9 L482.8 588.9 L483.0 586.9 L483.1 584.9 L483.2 582.9 L483.4 580.9 L483.5 578.9 L483.6 576.9 L483.6 574.9 L483.7 572.9 L483.8 570.9 L483.8 568.9 L483.9 566.9 L483.9 564.9 L484.0 562.9 L484.0 560.9 L484.0 558.9 L484.1 556.9 L484.1 554.9 L484.1 552.9 L484.1 550.9 L484.1 548.9 L484.1 546.9 L484.1 544.9 L484.0 542.9 L484.0 540.9 L484.0 538.9 L483.9 536.9 L483.9 534.9 L483.8 532.9 L483.8 530.9 L483.7 528.9 L483.6 526.9 L483.6 524.9 L483.5 522.9 L483.4 520.9 L483.4 518.9 L483.3 516.9 L483.2 514.9 L483.1 512.9 L483.1 510.9 L483.0 508.9 L482.9 506.9 L482.8 504.9 L482.8 502.9 L482.7 500.9 L482.6 498.9 L482.5 496.9 L482.4 494.9 L482.4 492.9 L482.3 490.9 L482.2 488.9 L482.1 486.9 L482.0 484.9 L481.9 482.9 L481.8 480.9 L481.7 478.9 L481.6 476.9 L481.5 474.9 L481.4 472.9 L481.3 470.9 L481.2 468.9 L481.1 466.9 L481.0 464.9 L480.8 462.9 L480.7 460.9 L480.6 458.9 L480.5 456.9 L480.3 454.9 L480.2 452.9 L480.1 450.9 L479.9 448.9 L479.8 446.9 L479.7 444.9 L479.5 442.9 L479.4 440.9 L479.2 438.9 L479.1 436.9 L479.0 434.9 L478.8 432.9 L478.7 430.9 L478.5 428.9 L478.4 426.9 L478.3 424.9 L478.1 422.9 L478.0 420.9 L477.8 418.9 L477.7 416.9 L477.5 414.9 L477.4 412.9 L477.2 410.9 L477.1 408.9 L476.9 406.9 L476.8 404.9 L476.6 402.9 L476.5 400.9 L476.4 398.9 L476.2 396.9 L476.1 394.9 L476.0 392.9 L475.8 390.9 L475.7 388.9 L475.6 386.9 L475.5 384.9 L475.4 382.9 L475.3 380.9 L475.3 378.9 L475.2 376.9 L475.1 374.9 L475.1 372.9 L475.0 370.9 L475.0 368.9 L474.9 366.9 L474.9 364.9 L474.8 362.9 L474.8 360.9 L474.8 358.9 L474.7 356.9 L474.7 354.9 L474.7 352.9 L474.6 350.9 L474.6 348.9 L474.6 346.9 L474.5 344.9 L474.5 342.9 L474.5 340.9 L474.5 338.9 L474.4 336.9 L474.4 334.9 L474.4 332.9 L474.4 330.9 L474.3 328.9 L474.3 326.9 L474.3 324.9 L474.3 322.9 L474.3 320.9 L474.2 318.9 L474.2 316.9 L474.2 314.9 L474.2 312.9 L474.2 310.9 L474.2 308.9 L474.1 306.9 L474.1 304.9 L474.1 302.9 L474.1 300.9 L474.1 298.9 L474.1 296.9 L474.1 294.9 L474.1 292.9 L474.0 290.9 L474.0 288.9 L474.0 286.9 L474.0 284.9 L474.0 282.9 L474.0 280.9 L474.0 278.9 L474.0 276.9 L473.9 274.9 L473.9 272.9 L473.9 270.9 L473.9 268.9 L473.9 266.9 L473.9 264.9 L473.9 262.9 L473.9 260.9 L473.8 258.9 L473.8 256.9 L473.8 254.9 L473.8 252.9 L473.8 250.9 L473.7 248.9 L473.7 246.9 L473.7 244.9 L473.7 242.9 L473.7 240.9 L473.6 238.9 L473.6 236.9 L473.6 234.9 L473.6 232.9 L473.5 230.9 L473.5 228.9 L473.5 226.9 L473.5 224.9 L473.5 222.9 L473.4 220.9 L473.4 218.9 L473.4 216.9 L473.4 214.9 L473.4 212.9 L473.4 210.9 L473.3 208.9 L473.3 206.9 L473.3 204.9 L473.3 202.9 L473.3 200.9 L473.3 198.9 L473.3 196.9 L473.3 194.9 L473.3 192.9 L473.2 190.9 L473.2 188.9 L473.2 186.9 L473.2 184.9 L473.2 182.9 L473.2 180.9 L473.2 178.9 L473.2 176.9 L473.2 174.9 L473.1 172.9 L473.1 170.9 L473.1 168.9 L473.1 166.9 L473.1 164.9 L473.1 162.9 L473.0 160.9 L473.0 158.9 L473.0 156.9 L472.9 154.9 L472.9 152.9 L472.9 150.9 L472.8 148.9 L472.8 146.9 L472.7 144.9 L472.7 142.9 L472.6 140.9 L472.6 138.9 L472.5 136.9 L472.4 134.9 L472.4 132.9 L472.3 130.9 L472.2 128.9 L472.2 126.9 L472.1 124.9 L472.0 122.9 L472.0 120.9 L471.9 118.9 L471.8 116.9 L471.8 114.9 L471.7 112.9 L471.6 110.9 L471.5 108.9 L471.5 106.9 L471.4 104.9 L471.3 102.9 L471.2 100.9 L471.1 98.9 L471.1 96.9 L471.0 94.9 L470.9 92.9 L470.8 90.9 L470.7 88.9 L470.6 86.9 L470.5 84.9 L470.4 82.9 Z"/>
<path fill="#E3AB7C" d="M530.6 186.3 L530.4 188.3 L530.3 190.3 L530.2 192.3 L530.0 194.3 L529.9 196.3 L529.8 198.3 L529.7 200.3 L529.5 202.3 L529.4 204.3 L529.3 206.3 L529.2 208.3 L529.1 210.3 L529.0 212.3 L528.9 214.3 L528.7 216.3 L528.6 218.3 L528.6 220.3 L528.5 222.3 L528.4 224.3 L528.3 226.3 L528.2 228.3 L528.2 230.3 L528.1 232.3 L528.1 234.3 L528.0 236.3 L528.0 238.3 L527.9 240.3 L527.9 242.3 L527.9 244.3 L527.8 246.3 L527.8 248.3 L527.8 250.3 L527.8 252.3 L527.7 254.3 L527.7 256.3 L527.7 258.3 L527.7 260.3 L527.7 262.3 L527.7 264.3 L527.7 266.3 L527.7 268.3 L527.7 270.3 L527.7 272.3 L527.7 274.3 L527.8 276.3 L527.8 278.3 L527.8 280.3 L527.9 282.3 L527.9 284.3 L527.9 286.3 L528.0 288.3 L528.0 290.3 L528.1 292.3 L528.1 294.3 L528.2 296.3 L528.2 298.3 L528.3 300.3 L528.3 302.3 L528.4 304.3 L528.4 306.3 L528.5 308.3 L528.6 310.3 L528.6 312.3 L528.7 314.3 L528.8 316.3 L528.8 318.3 L528.9 320.3 L529.0 322.3 L529.1 324.3 L529.1 326.3 L529.2 328.3 L529.3 330.3 L529.4 332.3 L529.4 334.3 L529.5 336.3 L529.6 338.3 L529.7 340.3 L529.7 342.3 L529.8 344.3 L529.9 346.3 L529.9 348.3 L530.0 350.3 L530.1 352.3 L530.2 354.3 L530.2 356.3 L530.3 358.3 L530.4 360.3 L530.5 362.3 L530.5 364.3 L530.6 366.3 L530.6 368.3 L530.7 370.3 L530.7 372.3 L530.8 374.3 L530.8 376.3 L530.8 378.3 L530.8 380.3 L530.8 382.3 L530.8 384.3 L530.8 386.3 L530.8 388.3 L530.8 390.3 L530.8 392.3 L530.8 394.3 L530.8 396.3 L530.8 398.3 L530.8 400.3 L530.8 402.3 L530.8 404.3 L530.8 406.3 L530.8 408.3 L530.8 410.3 L530.8 412.3 L530.8 414.3 L530.8 416.3 L530.7 418.3 L530.7 420.3 L530.7 422.3 L530.6 424.3 L530.6 426.3 L530.5 428.3 L530.4 430.3 L530.3 432.3 L530.3 434.3 L530.2 436.3 L530.0 438.3 L529.9 440.3 L529.8 442.3 L529.6 444.3 L529.4 446.3 L529.2 448.3 L529.0 450.3 L528.8 452.3 L528.5 454.3 L528.3 456.3 L528.0 458.3 L527.8 460.3 L527.5 462.3 L527.3 464.3 L527.0 466.3 L526.7 468.3 L526.4 470.3 L526.2 472.3 L525.9 474.3 L525.6 476.3 L525.3 478.3 L525.0 480.3 L524.7 482.3 L524.5 484.3 L524.2 486.3 L523.9 488.3 L523.6 490.3 L523.2 492.3 L522.9 494.3 L522.6 496.3 L522.3 498.3 L522.0 500.3 L521.7 502.3 L521.4 504.3 L521.1 506.3 L520.8 508.3 L520.5 510.3 L520.2 512.3 L519.9 514.3 L519.6 516.3 L519.3 518.3 L519.1 520.3 L518.8 522.3 L518.6 524.3 L518.3 526.3 L518.1 528.3 L517.9 530.3 L517.7 532.3 L517.5 534.3 L517.3 536.3 L517.1 538.3 L516.9 540.3 L516.7 542.3 L516.5 544.3 L516.3 546.3 L516.1 548.3 L516.0 550.3 L515.8 552.3 L515.6 554.3 L515.4 556.3 L515.3 558.3 L515.1 560.3 L515.0 562.3 L514.8 564.3 L514.7 566.3 L514.6 568.3 L514.5 570.3 L514.4 572.3 L514.4 574.3 L514.3 576.3 L514.3 578.3 L514.3 580.3 L514.3 582.3 L514.3 584.3 L514.3 586.3 L514.3 588.3 L514.3 590.3 L514.3 592.3 L514.3 594.3 L514.3 596.3 L514.3 598.3 L514.4 600.3 L514.4 602.3 L514.5 604.3 L514.6 606.3 L514.7 608.3 L514.8 610.3 L515.0 612.3 L515.1 614.3 L515.3 616.3 L515.5 618.3 L515.7 620.3 L515.9 622.3 L516.1 624.3 L516.4 626.3 L516.6 628.3 L516.9 630.1 L557.4 630.1 L557.6 628.3 L557.8 626.3 L558.1 624.3 L558.3 622.3 L558.5 620.3 L558.7 618.3 L558.9 616.3 L559.1 614.3 L559.2 612.3 L559.4 610.3 L559.5 608.3 L559.6 606.3 L559.7 604.3 L559.8 602.3 L559.8 600.3 L559.9 598.3 L559.9 596.3 L559.9 594.3 L559.9 592.3 L559.9 590.3 L559.9 588.3 L559.9 586.3 L559.9 584.3 L559.9 582.3 L559.9 580.3 L559.9 578.3 L559.9 576.3 L559.8 574.3 L559.8 572.3 L559.7 570.3 L559.6 568.3 L559.5 566.3 L559.4 564.3 L559.2 562.3 L559.1 560.3 L558.9 558.3 L558.8 556.3 L558.6 554.3 L558.4 552.3 L558.2 550.3 L558.1 548.3 L557.9 546.3 L557.7 544.3 L557.5 542.3 L557.3 540.3 L557.1 538.3 L556.9 536.3 L556.7 534.3 L556.5 532.3 L556.3 530.3 L556.1 528.3 L555.9 526.3 L555.6 524.3 L555.4 522.3 L555.1 520.3 L554.9 518.3 L554.6 516.3 L554.3 514.3 L554.0 512.3 L553.7 510.3 L553.4 508.3 L553.1 506.3 L552.8 504.3 L552.5 502.3 L552.2 500.3 L551.9 498.3 L551.6 496.3 L551.3 494.3 L551.0 492.3 L550.6 490.3 L550.3 488.3 L550.0 486.3 L549.7 484.3 L549.5 482.3 L549.2 480.3 L548.9 478.3 L548.6 476.3 L548.3 474.3 L548.0 472.3 L547.8 470.3 L547.5 468.3 L547.2 466.3 L546.9 464.3 L546.7 462.3 L546.4 460.3 L546.2 458.3 L545.9 456.3 L545.7 454.3 L545.4 452.3 L545.2 450.3 L545.0 448.3 L544.8 446.3 L544.6 444.3 L544.4 442.3 L544.3 440.3 L544.2 438.3 L544.0 436.3 L543.9 434.3 L543.9 432.3 L543.8 430.3 L543.7 428.3 L543.6 426.3 L543.6 424.3 L543.5 422.3 L543.5 420.3 L543.5 418.3 L543.4 416.3 L543.4 414.3 L543.4 412.3 L543.4 410.3 L543.4 408.3 L543.4 406.3 L543.4 404.3 L543.4 402.3 L543.4 400.3 L543.4 398.3 L543.4 396.3 L543.4 394.3 L543.4 392.3 L543.4 390.3 L543.4 388.3 L543.4 386.3 L543.4 384.3 L543.4 382.3 L543.4 380.3 L543.4 378.3 L543.4 376.3 L543.4 374.3 L543.5 372.3 L543.5 370.3 L543.6 368.3 L543.6 366.3 L543.7 364.3 L543.7 362.3 L543.8 360.3 L543.9 358.3 L544.0 356.3 L544.0 354.3 L544.1 352.3 L544.2 350.3 L544.3 348.3 L544.3 346.3 L544.4 344.3 L544.5 342.3 L544.5 340.3 L544.6 338.3 L544.7 336.3 L544.8 334.3 L544.8 332.3 L544.9 330.3 L545.0 328.3 L545.1 326.3 L545.1 324.3 L545.2 322.3 L545.3 320.3 L545.4 318.3 L545.4 316.3 L545.5 314.3 L545.6 312.3 L545.6 310.3 L545.7 308.3 L545.8 306.3 L545.8 304.3 L545.9 302.3 L545.9 300.3 L546.0 298.3 L546.0 296.3 L546.1 294.3 L546.1 292.3 L546.2 290.3 L546.2 288.3 L546.3 286.3 L546.3 284.3 L546.3 282.3 L546.4 280.3 L546.4 278.3 L546.4 276.3 L546.5 274.3 L546.5 272.3 L546.5 270.3 L546.5 268.3 L546.5 266.3 L546.5 264.3 L546.5 262.3 L546.5 260.3 L546.5 258.3 L546.5 256.3 L546.5 254.3 L546.4 252.3 L546.4 250.3 L546.4 248.3 L546.4 246.3 L546.3 244.3 L546.3 242.3 L546.3 240.3 L546.2 238.3 L546.2 236.3 L546.1 234.3 L546.1 232.3 L546.0 230.3 L546.0 228.3 L545.9 226.3 L545.8 224.3 L545.7 222.3 L545.6 220.3 L545.6 218.3 L545.5 216.3 L545.3 214.3 L545.2 212.3 L545.1 210.3 L545.0 208.3 L544.9 206.3 L544.8 204.3 L544.7 202.3 L544.5 200.3 L544.4 198.3 L544.3 196.3 L544.2 194.3 L544.0 192.3 L543.9 190.3 L543.8 188.3 L543.6 186.3 Z"/>
<path fill="#BAB7DC" d="M603.5 260.4 L603.6 262.4 L603.7 264.4 L603.8 266.4 L603.9 268.4 L604.0 270.4 L604.1 272.4 L604.2 274.4 L604.3 276.4 L604.5 278.4 L604.6 280.4 L604.7 282.4 L604.8 284.4 L604.9 286.4 L605.0 288.4 L605.1 290.4 L605.2 292.4 L605.3 294.4 L605.4 296.4 L605.4 298.4 L605.5 300.4 L605.5 302.4 L605.5 304.4 L605.5 306.4 L605.5 308.4 L605.5 310.4 L605.4 312.4 L605.4 314.4 L605.3 316.4 L605.2 318.4 L605.1 320.4 L604.9 322.4 L604.8 324.4 L604.7 326.4 L604.5 328.4 L604.3 330.4 L604.1 332.4 L603.9 334.4 L603.6 336.4 L603.4 338.4 L603.2 340.4 L602.9 342.4 L602.6 344.4 L602.4 346.4 L602.1 348.4 L601.9 350.4 L601.6 352.4 L601.4 354.4 L601.1 356.4 L600.9 358.4 L600.6 360.4 L600.4 362.4 L600.1 364.4 L599.9 366.4 L599.6 368.4 L599.4 370.4 L599.2 372.4 L599.0 374.4 L598.8 376.4 L598.6 378.4 L598.4 380.4 L598.2 382.4 L598.0 384.4 L597.8 386.4 L597.7 388.4 L597.6 390.4 L597.5 392.4 L597.4 394.4 L597.3 396.4 L597.3 398.4 L597.2 400.4 L597.2 402.4 L597.2 404.4 L597.3 406.4 L597.3 408.4 L597.3 410.4 L597.3 412.4 L597.4 414.4 L597.4 416.4 L597.4 418.4 L597.5 420.4 L597.5 422.4 L597.6 424.4 L597.6 426.4 L597.7 428.4 L597.7 430.4 L597.7 432.4 L597.8 434.4 L597.8 436.4 L597.8 438.4 L597.8 440.4 L597.8 442.4 L597.7 444.4 L597.7 446.4 L597.7 448.4 L597.6 450.4 L597.5 452.4 L597.4 454.4 L597.3 456.4 L597.1 458.4 L597.0 460.4 L596.7 462.4 L596.5 464.4 L596.2 466.4 L595.9 468.4 L595.6 470.4 L595.2 472.4 L594.8 474.4 L594.4 476.4 L593.9 478.4 L593.4 480.4 L592.9 482.4 L592.4 484.4 L591.8 486.4 L591.3 488.4 L590.7 490.4 L590.1 492.4 L589.6 494.4 L589.0 496.4 L588.4 498.4 L587.8 500.4 L587.3 502.4 L586.7 504.4 L586.2 506.4 L585.6 508.4 L585.1 510.4 L584.6 512.4 L584.1 514.4 L583.6 516.4 L583.1 518.4 L582.7 520.4 L582.2 522.4 L581.7 524.4 L581.3 526.4 L580.8 528.4 L580.3 530.4 L579.9 532.4 L579.4 534.4 L578.9 536.4 L578.5 538.4 L578.1 540.4 L577.7 542.4 L577.3 544.4 L576.9 546.4 L576.5 548.4 L576.2 550.4 L575.9 552.4 L575.6 554.4 L575.3 556.4 L575.0 558.4 L574.7 560.4 L574.5 562.4 L574.2 564.4 L574.0 566.4 L573.8 568.4 L573.6 570.4 L573.5 572.4 L573.3 574.4 L573.2 576.4 L573.0 578.4 L572.9 580.4 L572.8 582.4 L572.7 584.4 L572.7 586.4 L572.6 588.4 L572.5 590.4 L572.5 592.4 L572.5 594.4 L572.5 596.4 L572.6 598.4 L572.7 600.4 L572.8 602.4 L573.0 604.4 L573.2 606.4 L573.4 608.4 L573.7 610.4 L574.1 612.4 L574.5 614.4 L575.0 616.4 L575.5 618.4 L576.1 620.4 L576.8 622.4 L577.5 624.4 L578.2 626.4 L579.0 628.4 L579.8 630.1 L636.2 630.1 L637.0 628.4 L637.8 626.4 L638.5 624.4 L639.2 622.4 L639.9 620.4 L640.5 618.4 L641.0 616.4 L641.5 614.4 L641.9 612.4 L642.3 610.4 L642.6 608.4 L642.8 606.4 L643.0 604.4 L643.2 602.4 L643.3 600.4 L643.4 598.4 L643.5 596.4 L643.5 594.4 L643.5 592.4 L643.5 590.4 L643.4 588.4 L643.3 586.4 L643.3 584.4 L643.2 582.4 L643.1 580.4 L643.0 578.4 L642.8 576.4 L642.7 574.4 L642.5 572.4 L642.4 570.4 L642.2 568.4 L642.0 566.4 L641.8 564.4 L641.5 562.4 L641.3 560.4 L641.0 558.4 L640.7 556.4 L640.4 554.4 L640.1 552.4 L639.8 550.4 L639.5 548.4 L639.1 546.4 L638.7 544.4 L638.3 542.4 L637.9 540.4 L637.5 538.4 L637.1 536.4 L636.6 534.4 L636.1 532.4 L635.7 530.4 L635.2 528.4 L634.7 526.4 L634.3 524.4 L633.8 522.4 L633.3 520.4 L632.9 518.4 L632.4 516.4 L631.9 514.4 L631.4 512.4 L630.9 510.4 L630.4 508.4 L629.8 506.4 L629.3 504.4 L628.7 502.4 L628.2 500.4 L627.6 498.4 L627.0 496.4 L626.4 494.4 L625.9 492.4 L625.3 490.4 L624.7 488.4 L624.2 486.4 L623.6 484.4 L623.1 482.4 L622.6 480.4 L622.1 478.4 L621.6 476.4 L621.2 474.4 L620.8 472.4 L620.4 470.4 L620.1 468.4 L619.8 466.4 L619.5 464.4 L619.3 462.4 L619.0 460.4 L618.9 458.4 L618.7 456.4 L618.6 454.4 L618.5 452.4 L618.4 450.4 L618.3 448.4 L618.3 446.4 L618.3 444.4 L618.2 442.4 L618.2 440.4 L618.2 438.4 L618.2 436.4 L618.2 434.4 L618.3 432.4 L618.3 430.4 L618.3 428.4 L618.4 426.4 L618.4 424.4 L618.5 422.4 L618.5 420.4 L618.6 418.4 L618.6 416.4 L618.6 414.4 L618.7 412.4 L618.7 410.4 L618.7 408.4 L618.7 406.4 L618.8 404.4 L618.8 402.4 L618.8 400.4 L618.7 398.4 L618.7 396.4 L618.6 394.4 L618.5 392.4 L618.4 390.4 L618.3 388.4 L618.2 386.4 L618.0 384.4 L617.8 382.4 L617.6 380.4 L617.4 378.4 L617.2 376.4 L617.0 374.4 L616.8 372.4 L616.6 370.4 L616.4 368.4 L616.1 366.4 L615.9 364.4 L615.6 362.4 L615.4 360.4 L615.1 358.4 L614.9 356.4 L614.6 354.4 L614.4 352.4 L614.1 350.4 L613.9 348.4 L613.6 346.4 L613.4 344.4 L613.1 342.4 L612.8 340.4 L612.6 338.4 L612.4 336.4 L612.1 334.4 L611.9 332.4 L611.7 330.4 L611.5 328.4 L611.3 326.4 L611.2 324.4 L611.1 322.4 L610.9 320.4 L610.8 318.4 L610.7 316.4 L610.6 314.4 L610.6 312.4 L610.5 310.4 L610.5 308.4 L610.5 306.4 L610.5 304.4 L610.5 302.4 L610.5 300.4 L610.6 298.4 L610.6 296.4 L610.7 294.4 L610.8 292.4 L610.9 290.4 L611.0 288.4 L611.1 286.4 L611.2 284.4 L611.3 282.4 L611.4 280.4 L611.5 278.4 L611.7 276.4 L611.8 274.4 L611.9 272.4 L612.0 270.4 L612.1 268.4 L612.2 266.4 L612.3 264.4 L612.4 262.4 L612.5 260.4 Z"/>
<path fill="#EC93CB" d="M673.5 245.6 L673.5 247.6 L673.6 249.6 L673.7 251.6 L673.7 253.6 L673.8 255.6 L673.9 257.6 L674.0 259.6 L674.0 261.6 L674.1 263.6 L674.2 265.6 L674.3 267.6 L674.3 269.6 L674.4 271.6 L674.5 273.6 L674.6 275.6 L674.6 277.6 L674.7 279.6 L674.8 281.6 L674.9 283.6 L674.9 285.6 L675.0 287.6 L675.1 289.6 L675.2 291.6 L675.2 293.6 L675.3 295.6 L675.4 297.6 L675.4 299.6 L675.5 301.6 L675.5 303.6 L675.6 305.6 L675.7 307.6 L675.7 309.6 L675.8 311.6 L675.8 313.6 L675.9 315.6 L675.9 317.6 L675.9 319.6 L676.0 321.6 L676.0 323.6 L676.0 325.6 L676.0 327.6 L676.0 329.6 L675.9 331.6 L675.9 333.6 L675.9 335.6 L675.8 337.6 L675.8 339.6 L675.7 341.6 L675.7 343.6 L675.6 345.6 L675.5 347.6 L675.5 349.6 L675.4 351.6 L675.3 353.6 L675.2 355.6 L675.1 357.6 L675.0 359.6 L674.9 361.6 L674.8 363.6 L674.6 365.6 L674.5 367.6 L674.3 369.6 L674.1 371.6 L674.0 373.6 L673.8 375.6 L673.6 377.6 L673.3 379.6 L673.1 381.6 L672.9 383.6 L672.6 385.6 L672.4 387.6 L672.1 389.6 L671.9 391.6 L671.6 393.6 L671.4 395.6 L671.1 397.6 L670.9 399.6 L670.7 401.6 L670.4 403.6 L670.2 405.6 L670.0 407.6 L669.8 409.6 L669.5 411.6 L669.3 413.6 L669.1 415.6 L668.9 417.6 L668.8 419.6 L668.6 421.6 L668.4 423.6 L668.3 425.6 L668.1 427.6 L667.9 429.6 L667.8 431.6 L667.6 433.6 L667.4 435.6 L667.2 437.6 L667.0 439.6 L666.8 441.6 L666.5 443.6 L666.2 445.6 L665.9 447.6 L665.6 449.6 L665.2 451.6 L664.8 453.6 L664.4 455.6 L664.0 457.6 L663.6 459.6 L663.2 461.6 L662.8 463.6 L662.4 465.6 L662.0 467.6 L661.6 469.6 L661.2 471.6 L660.8 473.6 L660.4 475.6 L660.0 477.6 L659.6 479.6 L659.2 481.6 L658.8 483.6 L658.5 485.6 L658.1 487.6 L657.7 489.6 L657.4 491.6 L657.0 493.6 L656.7 495.6 L656.4 497.6 L656.0 499.6 L655.7 501.6 L655.4 503.6 L655.1 505.6 L654.8 507.6 L654.5 509.6 L654.2 511.6 L653.9 513.6 L653.6 515.6 L653.4 517.6 L653.1 519.6 L652.8 521.6 L652.6 523.6 L652.3 525.6 L652.1 527.6 L651.8 529.6 L651.6 531.6 L651.4 533.6 L651.2 535.6 L651.0 537.6 L650.8 539.6 L650.6 541.6 L650.4 543.6 L650.2 545.6 L650.1 547.6 L649.9 549.6 L649.8 551.6 L649.6 553.6 L649.5 555.6 L649.4 557.6 L649.3 559.6 L649.2 561.6 L649.1 563.6 L649.0 565.6 L648.9 567.6 L648.9 569.6 L648.8 571.6 L648.7 573.6 L648.7 575.6 L648.6 577.6 L648.6 579.6 L648.5 581.6 L648.5 583.6 L648.4 585.6 L648.4 587.6 L648.4 589.6 L648.4 591.6 L648.4 593.6 L648.4 595.6 L648.5 597.6 L648.6 599.6 L648.7 601.6 L648.8 603.6 L649.0 605.6 L649.2 607.6 L649.4 609.6 L649.7 611.6 L650.0 613.6 L650.4 615.6 L650.8 617.6 L651.2 619.6 L651.7 621.6 L652.3 623.6 L652.8 625.6 L653.4 627.6 L654.0 629.6 L654.5 630.1 L703.5 630.1 L704.0 629.6 L704.6 627.6 L705.2 625.6 L705.7 623.6 L706.3 621.6 L706.8 619.6 L707.2 617.6 L707.6 615.6 L708.0 613.6 L708.3 611.6 L708.6 609.6 L708.8 607.6 L709.0 605.6 L709.2 603.6 L709.3 601.6 L709.4 599.6 L709.5 597.6 L709.6 595.6 L709.6 593.6 L709.6 591.6 L709.6 589.6 L709.6 587.6 L709.6 585.6 L709.5 583.6 L709.5 581.6 L709.4 579.6 L709.4 577.6 L709.3 575.6 L709.3 573.6 L709.2 571.6 L709.1 569.6 L709.1 567.6 L709.0 565.6 L708.9 563.6 L708.8 561.6 L708.7 559.6 L708.6 557.6 L708.5 555.6 L708.4 553.6 L708.2 551.6 L708.1 549.6 L707.9 547.6 L707.8 545.6 L707.6 543.6 L707.4 541.6 L707.2 539.6 L707.0 537.6 L706.8 535.6 L706.6 533.6 L706.4 531.6 L706.2 529.6 L705.9 527.6 L705.7 525.6 L705.4 523.6 L705.2 521.6 L704.9 519.6 L704.6 517.6 L704.4 515.6 L704.1 513.6 L703.8 511.6 L703.5 509.6 L703.2 507.6 L702.9 505.6 L702.6 503.6 L702.3 501.6 L702.0 499.6 L701.6 497.6 L701.3 495.6 L701.0 493.6 L700.6 491.6 L700.3 489.6 L699.9 487.6 L699.5 485.6 L699.2 483.6 L698.8 481.6 L698.4 479.6 L698.0 477.6 L697.6 475.6 L697.2 473.6 L696.8 471.6 L696.4 469.6 L696.0 467.6 L695.6 465.6 L695.2 463.6 L694.8 461.6 L694.4 459.6 L694.0 457.6 L693.6 455.6 L693.2 453.6 L692.8 451.6 L692.4 449.6 L692.1 447.6 L691.8 445.6 L691.5 443.6 L691.2 441.6 L691.0 439.6 L690.8 437.6 L690.6 435.6 L690.4 433.6 L690.2 431.6 L690.1 429.6 L689.9 427.6 L689.7 425.6 L689.6 423.6 L689.4 421.6 L689.2 419.6 L689.1 417.6 L688.9 415.6 L688.7 413.6 L688.5 411.6 L688.2 409.6 L688.0 407.6 L687.8 405.6 L687.6 403.6 L687.3 401.6 L687.1 399.6 L686.9 397.6 L686.6 395.6 L686.4 393.6 L686.1 391.6 L685.9 389.6 L685.6 387.6 L685.4 385.6 L685.1 383.6 L684.9 381.6 L684.7 379.6 L684.4 377.6 L684.2 375.6 L684.0 373.6 L683.9 371.6 L683.7 369.6 L683.5 367.6 L683.4 365.6 L683.2 363.6 L683.1 361.6 L683.0 359.6 L682.9 357.6 L682.8 355.6 L682.7 353.6 L682.6 351.6 L682.5 349.6 L682.5 347.6 L682.4 345.6 L682.3 343.6 L682.3 341.6 L682.2 339.6 L682.2 337.6 L682.1 335.6 L682.1 333.6 L682.1 331.6 L682.0 329.6 L682.0 327.6 L682.0 325.6 L682.0 323.6 L682.0 321.6 L682.1 319.6 L682.1 317.6 L682.1 315.6 L682.2 313.6 L682.2 311.6 L682.3 309.6 L682.3 307.6 L682.4 305.6 L682.5 303.6 L682.5 301.6 L682.6 299.6 L682.6 297.6 L682.7 295.6 L682.8 293.6 L682.8 291.6 L682.9 289.6 L683.0 287.6 L683.1 285.6 L683.1 283.6 L683.2 281.6 L683.3 279.6 L683.4 277.6 L683.4 275.6 L683.5 273.6 L683.6 271.6 L683.7 269.6 L683.7 267.6 L683.8 265.6 L683.9 263.6 L684.0 261.6 L684.0 259.6 L684.1 257.6 L684.2 255.6 L684.3 253.6 L684.3 251.6 L684.4 249.6 L684.5 247.6 L684.5 245.6 Z"/>
</g>
<g stroke="#000" fill="none">
<line x1="256.7" y1="97.7" x2="256.7" y2="389.8" stroke="#000" stroke-width="1.5"/>
<line x1="256.7" y1="600.5" x2="256.7" y2="630.1" stroke="#111" stroke-width="1.3"/>
<rect x="209.3" y="389.8" width="94.8" height="210.8" fill="#fff" stroke-width="1.6"/>
<line x1="209.3" y1="497.0" x2="304.1" y2="497.0" stroke-width="3.2"/>
</g>
<g stroke="#000" fill="none">
<line x1="572.3" y1="201.2" x2="572.3" y2="437.9" stroke="#000" stroke-width="1.5"/>
<line x1="572.3" y1="600.5" x2="572.3" y2="630.1" stroke="#111" stroke-width="1.3"/>
<rect x="524.9" y="437.9" width="94.8" height="162.7" fill="#fff" stroke-width="1.6"/>
<line x1="524.9" y1="541.4" x2="619.7" y2="541.4" stroke-width="3.2"/>
</g>
<g stroke="#bebebe" stroke-opacity="0.55" stroke-width="2.4" fill="none" stroke-linecap="butt">
<line x1="256.7" y1="275.2" x2="572.3" y2="260.4"/>
<line x1="256.7" y1="304.7" x2="572.3" y2="260.4"/>
<line x1="256.7" y1="319.5" x2="572.3" y2="511.8"/>
<line x1="256.7" y1="334.3" x2="572.3" y2="378.7"/>
<line x1="256.7" y1="363.9" x2="572.3" y2="541.4"/>
<line x1="256.7" y1="363.9" x2="572.3" y2="556.2"/>
<line x1="256.7" y1="378.7" x2="572.3" y2="378.7"/>
<line x1="256.7" y1="393.5" x2="572.3" y2="393.5"/>
<line x1="256.7" y1="408.3" x2="572.3" y2="541.4"/>
<line x1="256.7" y1="423.1" x2="572.3" y2="452.6"/>
<line x1="256.7" y1="423.1" x2="572.3" y2="526.6"/>
<line x1="256.7" y1="452.6" x2="572.3" y2="511.8"/>
<line x1="256.7" y1="497.0" x2="572.3" y2="571.0"/>
<line x1="256.7" y1="511.8" x2="572.3" y2="511.8"/>
<line x1="256.7" y1="526.6" x2="572.3" y2="408.3"/>
<line x1="256.7" y1="541.4" x2="572.3" y2="600.5"/>
<line x1="256.7" y1="541.4" x2="572.3" y2="630.1"/>
<line x1="256.7" y1="556.2" x2="572.3" y2="585.8"/>
<line x1="256.7" y1="556.2" x2="572.3" y2="600.5"/>
<line x1="256.7" y1="556.2" x2="572.3" y2="630.1"/>
<line x1="256.7" y1="585.8" x2="572.3" y2="437.9"/>
<line x1="256.7" y1="600.5" x2="572.3" y2="511.8"/>
<line x1="256.7" y1="600.5" x2="572.3" y2="541.4"/>
<line x1="256.7" y1="615.3" x2="572.3" y2="571.0"/>
<line x1="256.7" y1="615.3" x2="572.3" y2="585.8"/>
<line x1="256.7" y1="615.3" x2="572.3" y2="600.5"/>
<line x1="256.7" y1="615.3" x2="572.3" y2="615.3"/>
<line x1="256.7" y1="615.3" x2="572.3" y2="615.3"/>
<line x1="256.7" y1="630.1" x2="572.3" y2="630.1"/>
<line x1="256.7" y1="630.1" x2="572.3" y2="630.1"/>
<line x1="256.7" y1="630.1" x2="572.3" y2="630.1"/>
<line x1="256.7" y1="630.1" x2="572.3" y2="482.2"/>
<line x1="256.7" y1="630.1" x2="256.7" y2="38.5"/>
<line x1="256.7" y1="630.1" x2="256.7" y2="156.8"/>
<line x1="256.7" y1="630.1" x2="256.7" y2="201.2"/>
<line x1="256.7" y1="630.1" x2="256.7" y2="260.4"/>
<line x1="256.7" y1="630.1" x2="256.7" y2="363.9"/>
<line x1="572.3" y1="630.1" x2="572.3" y2="82.9"/>
<line x1="572.3" y1="630.1" x2="572.3" y2="142.1"/>
<line x1="572.3" y1="630.1" x2="572.3" y2="171.6"/>
<line x1="572.3" y1="630.1" x2="572.3" y2="216.0"/>
<line x1="572.3" y1="630.1" x2="572.3" y2="260.4"/>
<line x1="572.3" y1="630.1" x2="572.3" y2="378.7"/>
</g>
<g fill="#000">
<circle cx="256.7" cy="630.1" r="5.25"/>
<circle cx="256.7" cy="615.3" r="5.25"/>
<circle cx="256.7" cy="600.5" r="5.25"/>
<circle cx="256.7" cy="585.8" r="5.25"/>
<circle cx="256.7" cy="571.0" r="5.25"/>
<circle cx="256.7" cy="556.2" r="5.25"/>
<circle cx="256.7" cy="541.4" r="5.25"/>
<circle cx="256.7" cy="526.6" r="5.25"/>
<circle cx="256.7" cy="511.8" r="5.25"/>
<circle cx="256.7" cy="497.0" r="5.25"/>
<circle cx="256.7" cy="482.2" r="5.25"/>
<circle cx="256.7" cy="467.4" r="5.25"/>
<circle cx="256.7" cy="452.6" r="5.25"/>
<circle cx="256.7" cy="437.9" r="5.25"/>
<circle cx="256.7" cy="423.1" r="5.25"/>
<circle cx="256.7" cy="408.3" r="5.25"/>
<circle cx="256.7" cy="393.5" r="5.25"/>
<circle cx="256.7" cy="378.7" r="5.25"/>
<circle cx="256.7" cy="363.9" r="5.25"/>
<circle cx="256.7" cy="334.3" r="5.25"/>
<circle cx="256.7" cy="319.5" r="5.25"/>
<circle cx="256.7" cy="304.7" r="5.25"/>
<circle cx="256.7" cy="290.0" r="5.25"/>
<circle cx="256.7" cy="275.2" r="5.25"/>
<circle cx="256.7" cy="260.4" r="5.25"/>
<circle cx="256.7" cy="216.0" r="5.25"/>
<circle cx="256.7" cy="201.2" r="5.25"/>
<circle cx="256.7" cy="186.4" r="5.25"/>
<circle cx="256.7" cy="156.8" r="5.25"/>
<circle cx="256.7" cy="97.7" r="5.25"/>
<circle cx="256.7" cy="38.5" r="5.25"/>
<path d="M572.30 622.22 L579.14 634.07 L565.46 634.07 Z"/>
<path d="M572.30 607.43 L579.14 619.28 L565.46 619.28 Z"/>
<path d="M572.30 592.64 L579.14 604.49 L565.46 604.49 Z"/>
<path d="M572.30 577.85 L579.14 589.70 L565.46 589.70 Z"/>
<path d="M572.30 563.06 L579.14 574.91 L565.46 574.91 Z"/>
<path d="M572.30 548.27 L579.14 560.12 L565.46 560.12 Z"/>
<path d="M572.30 533.48 L579.14 545.33 L565.46 545.33 Z"/>
<path d="M572.30 518.69 L579.14 530.54 L565.46 530.54 Z"/>
<path d="M572.30 503.90 L579.14 515.75 L565.46 515.75 Z"/>
<path d="M572.30 489.11 L579.14 500.96 L565.46 500.96 Z"/>
<path d="M572.30 474.32 L579.14 486.17 L565.46 486.17 Z"/>
<path d="M572.30 459.53 L579.14 471.38 L565.46 471.38 Z"/>
<path d="M572.30 444.74 L579.14 456.59 L565.46 456.59 Z"/>
<path d="M572.30 429.95 L579.14 441.80 L565.46 441.80 Z"/>
<path d="M572.30 415.16 L579.14 427.01 L565.46 427.01 Z"/>
<path d="M572.30 400.37 L579.14 412.22 L565.46 412.22 Z"/>
<path d="M572.30 385.58 L579.14 397.43 L565.46 397.43 Z"/>
<path d="M572.30 370.79 L579.14 382.64 L565.46 382.64 Z"/>
<path d="M572.30 341.21 L579.14 353.06 L565.46 353.06 Z"/>
<path d="M572.30 326.42 L579.14 338.27 L565.46 338.27 Z"/>
<path d="M572.30 311.63 L579.14 323.48 L565.46 323.48 Z"/>
<path d="M572.30 296.84 L579.14 308.69 L565.46 308.69 Z"/>
<path d="M572.30 282.05 L579.14 293.90 L565.46 293.90 Z"/>
<path d="M572.30 267.26 L579.14 279.11 L565.46 279.11 Z"/>
<path d="M572.30 252.47 L579.14 264.32 L565.46 264.32 Z"/>
<path d="M572.30 237.68 L579.14 249.53 L565.46 249.53 Z"/>
<path d="M572.30 222.89 L579.14 234.74 L565.46 234.74 Z"/>
<path d="M572.30 208.10 L579.14 219.95 L565.46 219.95 Z"/>
<path d="M572.30 193.31 L579.14 205.16 L565.46 205.16 Z"/>
<path d="M572.30 178.52 L579.14 190.37 L565.46 190.37 Z"/>
<path d="M572.30 163.73 L579.14 175.58 L565.46 175.58 Z"/>
<path d="M572.30 134.15 L579.14 146.00 L565.46 146.00 Z"/>
<path d="M572.30 119.36 L579.14 131.21 L565.46 131.21 Z"/>
<path d="M572.30 74.99 L579.14 86.84 L565.46 86.84 Z"/>
</g>
<g stroke="#000" fill="none">
<path d="M67.4 7.9 V659.5 H762" stroke-width="2.45" stroke-linejoin="round"/>
<line x1="61" y1="600.5" x2="67.4" y2="600.5" stroke-width="2.2" stroke="#222"/>
<line x1="61" y1="452.6" x2="67.4" y2="452.6" stroke-width="2.2" stroke="#222"/>
<line x1="61" y1="304.7" x2="67.4" y2="304.7" stroke-width="2.2" stroke="#222"/>
<line x1="61" y1="156.8" x2="67.4" y2="156.8" stroke-width="2.2" stroke="#222"/>
<line x1="61" y1="8.9" x2="67.4" y2="8.9" stroke-width="2.2" stroke="#222"/>
<line x1="256.7" y1="659.5" x2="256.7" y2="666.2" stroke-width="2.2" stroke="#222"/>
<line x1="572.3" y1="659.5" x2="572.3" y2="666.2" stroke-width="2.2" stroke="#222"/>
</g>
<g font-family="Liberation Sans, Arial, Helvetica, sans-serif" font-size="20.4" fill="#4d4d4d">
<text x="55.8" y="607.8" text-anchor="end">10</text>
<text x="55.8" y="459.9" text-anchor="end">20</text>
<text x="55.8" y="312.0" text-anchor="end">30</text>
<text x="55.8" y="164.1" text-anchor="end">40</text>
<text x="55.8" y="16.2" text-anchor="end">50</text>
<text x="256.7" y="685.8" text-anchor="middle">CBD</text>
<text x="572.3" y="685.8" text-anchor="middle">Placebo</text>
</g>
<text font-family="Liberation Sans, Arial, Helvetica, sans-serif" font-size="25.2" fill="#000" text-anchor="middle" transform="translate(21.4 334.2) rotate(-90)">AUQ Score</text>
<text font-family="Liberation Sans, Arial, Helvetica, sans-serif" font-size="25.7" fill="#000" x="800.4" y="277.8">Event</text>
<rect x="802.6" y="296.4" width="24.8" height="24.8" fill="#97D9BE" stroke="#2e2e2e" stroke-width="3.4"/>
<text font-family="Liberation Sans, Arial, Helvetica, sans-serif" font-size="20.4" fill="#000" x="842.7" y="315.8">Alcohol</text>
<rect x="802.6" y="325.9" width="24.8" height="24.8" fill="#E3AB7C" stroke="#2e2e2e" stroke-width="3.4"/>
<text font-family="Liberation Sans, Arial, Helvetica, sans-serif" font-size="20.4" fill="#000" x="842.7" y="345.3">Apple Juice</text>
<rect x="802.6" y="355.4" width="24.8" height="24.8" fill="#BAB7DC" stroke="#2e2e2e" stroke-width="3.4"/>
<text font-family="Liberation Sans, Arial, Helvetica, sans-serif" font-size="20.4" fill="#000" x="842.7" y="374.8">Baseline</text>
<rect x="802.6" y="384.9" width="24.8" height="24.8" fill="#EC93CB" stroke="#2e2e2e" stroke-width="3.4"/>
<text font-family="Liberation Sans, Arial, Helvetica, sans-serif" font-size="20.4" fill="#000" x="842.7" y="404.3">Water</text>
</svg>
</body>
</html>
